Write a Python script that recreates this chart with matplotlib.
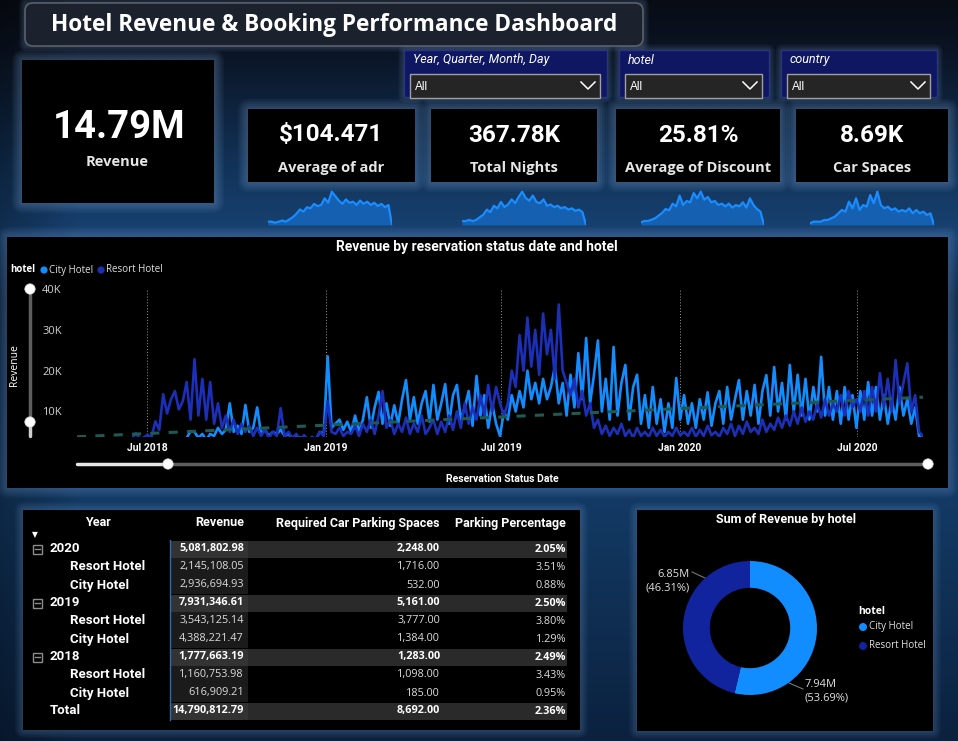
import numpy as np
import pandas as pd
import matplotlib
matplotlib.use("Agg")
import matplotlib.pyplot as plt
import matplotlib.dates as mdates
from matplotlib.colors import to_rgb
from matplotlib.patches import Rectangle, FancyBboxPatch, Circle

# ---------------- data ----------------
total_revenue_txt = "14.79M"
kpi_labels = ["Average of adr", "Total Nights", "Average of Discount", "Car Spaces"]
kpi_values = ["$104.471", "367.78K", "25.81%", "8.69K"]
slicer_titles = ["Year, Quarter, Month, Day", "hotel", "country"]

# small trend lines under the cards (relative readings)
adr_spark = [3, 3, 2, 3, 4, 3, 5, 7, 10, 14, 12, 16, 15, 19, 17, 18, 24, 20, 30, 26,
             22, 19, 23, 20, 21, 18, 22, 19, 21, 18, 20, 17, 19, 16, 18, 0]
nights_spark = [3, 3, 4, 3, 4, 6, 8, 12, 10, 15, 13, 18, 14, 16, 20, 17, 22, 26, 21, 19,
                23, 18, 17, 20, 15, 16, 14, 15, 13, 14, 12, 13, 11, 12, 10, 0]
discount_spark = [2, 3, 3, 4, 5, 7, 9, 12, 11, 16, 14, 22, 15, 18, 17, 24, 20, 25, 19, 21,
                  17, 18, 15, 16, 14, 16, 13, 15, 14, 17, 13, 20, 15, 12, 10, 0]
car_spark = [1, 2, 2, 2, 3, 3, 4, 5, 7, 9, 8, 14, 10, 16, 9, 12, 11, 18, 13, 20,
             12, 10, 11, 9, 10, 8, 9, 8, 10, 7, 9, 7, 8, 6, 7, 0]

# revenue by reservation status date (K), read every ~4 days
series_start, series_end = "2018-04-20", "2020-09-07"
city_rev_k = [0, 0, 0, 0, 0, 0, 0, 0, 0, 0, 0, 0, 0, 0, 0, 0, 0, 0, 0, 0,
              0, 0, 0, 0, 0, 0, 0, 0,
              3.5, 5.2, 5.0, 3.5, 4.5, 3.0, 4.5, 4.0, 6.0, 4.5, 5.5, 12, 5, 6.5, 4.5, 11.6,
              5, 6, 11, 4.5, 5.5, 4, 5, 4.5, 5.5, 4, 4.5, 3.5, 4, 3.5, 3.8, 3, 3.5, 3.2,
              5, 4.5, 23.5, 6,
              7, 8, 5.5, 7.5, 5, 9, 5, 8, 13.5, 6, 11, 14.8, 7, 12, 6.5, 11.5, 7, 13, 17.7, 8,
              13.5, 7, 12, 15, 7.5, 16.5, 8, 12, 16.7, 7, 14, 16.5, 8, 11, 15, 6.5, 18.7, 9,
              14, 6, 12, 7, 4, 10,
              8, 14, 10, 15, 11, 20, 13, 17, 12, 18, 13, 16, 21, 12, 17, 9, 19, 11, 24.3, 13,
              28, 12, 19, 27.4, 10, 18, 8, 25.8, 9, 17, 21.4, 8, 16, 19, 7, 14, 6, 16, 7, 13,
              5, 12, 6, 18.2, 8, 14,
              7, 12, 6, 13, 8, 14.7, 6.5, 12, 15, 7, 16, 8, 13, 17.7, 8, 15, 9, 16.5, 7, 15,
              18.9, 9, 20.9, 10, 17, 8, 21.4, 10, 19, 9, 18, 8, 16, 10, 23.4, 9, 16, 8, 15, 7,
              16, 8, 14, 6, 15,
              8, 17.2, 9, 16, 8, 14, 7, 13, 8, 16, 9, 13, 7, 11, 4, 3]
resort_rev_k = [2.5, 2.8, 2.6, 3.0, 2.7, 3.1, 2.9, 3.2, 3.0, 3.3, 3.1, 3.4, 3.2, 3.5, 3.3, 4.7,
                3.4, 3.6,
                4.3, 3.6, 7.6, 5.5, 14.2, 9.5, 13.0, 15.0, 10.5, 12.5, 17.2, 8.0, 22.8, 9.0,
                18.0, 8.0, 17.2, 7.0, 12.0, 6.0, 9.0, 5.0, 8.0, 4.5, 7.0, 5.0, 6.5, 4.0, 6.0,
                4.0, 5.5, 3.5, 5.0, 4.0, 10.8, 4.0, 5.0, 3.5, 4.5, 3.0, 4.2, 3.0, 3.8, 3.2,
                5.0, 4.0, 12.5, 5.0,
                4.5, 6, 4, 5, 4.5, 6.5, 4, 7, 5, 8, 4.5, 9, 15, 6, 8, 4.5, 7, 5, 8.5, 4.5,
                7, 5, 9, 4.5, 6, 8, 4.5, 7.5, 5, 9, 5.5, 10, 6, 12, 7, 11, 8, 14, 9, 16.5,
                10, 16, 12, 9,
                12, 20, 16, 28.7, 20, 33, 21, 30, 19, 34, 24, 30, 18, 36.2, 20, 17, 14, 18, 11, 15,
                9, 12, 6, 8, 4.5, 6.5, 4, 6, 4.5, 7, 4, 5.5, 3.5, 6, 4, 5, 3.8, 6, 4, 5.5,
                3.8, 5, 4, 6, 4.2, 5,
                4, 6, 3.8, 5.5, 4, 6.5, 4.2, 5, 3.8, 6, 4.5, 7, 4, 6.5, 4.5, 7.5, 5, 6, 4.5, 8,
                5, 7, 5.5, 8.5, 6, 9, 6.5, 10, 7, 11, 7.5, 10, 8, 12, 8.5, 13, 9, 12, 10, 14,
                9, 15, 11, 13, 10,
                15, 9, 16, 10, 19.4, 11, 18, 10, 22.6, 12, 17, 21.8, 10, 14, 5, 4]
trend_k = [3.8, 13.5]  # trend line at first and last date

# matrix table
years = ["2020", "2019", "2018"]
year_rev = [5081802.98, 7931346.61, 1777663.19]
resort_rev = [2145108.05, 3543125.14, 1160753.98]
city_rev = [2936694.93, 4388221.47, 616909.21]
year_park = [2248, 5161, 1283]
resort_park = [1716, 3777, 1098]
city_park = [532, 1384, 185]
year_pct = [2.05, 2.50, 2.49]
resort_pct = [3.51, 3.80, 3.43]
city_pct = [0.88, 1.29, 0.95]
total_rev, total_park, total_pct = 14790812.79, 8692, 2.36

hotels = ["City Hotel", "Resort Hotel"]

# ---------------- style ----------------
W, H = 958, 741
CITY = "#118DFF"
RESORT = "#12239E"
RESORT_LINE = "#1c2fb8"
SEG = ["Open Sans", "DejaVu Sans"]
DIN = ["Roboto", "DejaVu Sans"]

fig = plt.figure(figsize=(W / 100, H / 100), dpi=100)
bg = fig.add_axes([0, 0, 1, 1])
bg.set_xlim(0, W)
bg.set_ylim(H, 0)
bg.axis("off")

# background gradient
stops_y = [0, 50, 170, 232, 300, 500, 741]
stops_c = ["#080c14", "#0b1424", "#12345a", "#184272", "#0e2848", "#133a64", "#0b213e"]
yy = np.arange(H)
rgb = np.array([to_rgb(c) for c in stops_c])
col = np.stack([np.interp(yy, stops_y, rgb[:, k]) for k in range(3)], axis=1)
xx = np.arange(W)
shade = 0.7 + 0.3 * np.clip(xx / 80, 0, 1)
img = col[:, None, :] * shade[None, :, None]
bg.imshow(img, extent=[0, W, H, 0], aspect="auto", zorder=0)


def px_axes(x0, y0, x1, y1):
    return fig.add_axes([x0 / W, 1 - y1 / H, (x1 - x0) / W, (y1 - y0) / H])


def glow(x0, y0, x1, y1, spread=10, color="#8fb8e8", a=0.05):
    for k in range(6, 0, -1):
        p = spread * k / 6
        bg.add_patch(FancyBboxPatch((x0 - p, y0 - p), x1 - x0 + 2 * p, y1 - y0 + 2 * p,
                                    boxstyle="round,pad=0,rounding_size=%.1f" % (p + 2),
                                    fc=color, ec="none", alpha=a, zorder=1))


def box(x0, y0, x1, y1, fc="black", ec="none", lw=0, z=2):
    bg.add_patch(Rectangle((x0, y0), x1 - x0, y1 - y0, fc=fc, ec=ec, lw=lw, zorder=z))


# title
glow(25, 3, 643, 46, spread=6, a=0.04)
bg.add_patch(FancyBboxPatch((25, 3), 618, 43, boxstyle="round,pad=0,rounding_size=8",
                            fc="#1b222e", ec="#59606c", lw=1.2, zorder=2))
bg.text(334, 25, "Hotel Revenue & Booking Performance Dashboard", color="white",
        fontsize=16.3, fontweight="bold", family=SEG, ha="center", va="center", zorder=3)

# big revenue card
glow(22, 60, 214, 203)
box(22, 60, 214, 203)
bg.text(119, 128, total_revenue_txt, color="white", fontsize=27.5, fontweight="bold",
        family=DIN, ha="center", va="center", zorder=3)
bg.text(117, 162, "Revenue", color="#e6e6e6", fontsize=10.5, fontweight="bold",
        family=SEG, ha="center", va="center", zorder=3)

# slicers
slicer_boxes = [(404, 50, 607, 97), (619, 50, 769, 97), (781, 50, 937, 97)]
for (x0, y0, x1, y1), name in zip(slicer_boxes, slicer_titles):
    glow(x0, y0, x1, y1, spread=6, a=0.035)
    box(x0, y0, x1, y1, fc="#0f1763", ec="#2a3580", lw=1)
    bg.text(x0 + 9, 60, name, color="white", fontsize=9, style="italic", family=DIN,
            ha="left", va="center", zorder=3)
    box(x0 + 6, 74, x1 - 7, y1 + 1, fc="#252525", ec="#a0a0a0", lw=1, z=3)
    bg.text(x0 + 11, 87, "All", color="white", fontsize=8.5, family=["Liberation Sans", "DejaVu Sans"],
            ha="left", va="center", zorder=4)
    cx = x1 - 19
    bg.plot([cx - 7, cx, cx + 7], [82, 89, 82], color="white", lw=1.1, zorder=4)

# KPI cards + sparklines
card_boxes = [(248, 109, 415, 182), (431, 109, 597, 182), (616, 109, 780, 182), (796, 109, 948, 182)]
spark_boxes = [(268, 190, 392, 225), (462, 190, 586, 225), (641, 190, 764, 225), (810, 190, 934, 225)]
sparks = [adr_spark, nights_spark, discount_spark, car_spark]
for (x0, y0, x1, y1), val, lab in zip(card_boxes, kpi_values, kpi_labels):
    glow(x0, y0, x1, y1)
    box(x0, y0, x1, y1)
    cx = (x0 + x1) / 2
    bg.text(cx, 135, val, color="white", fontsize=17.5, fontweight="bold", family=DIN,
            ha="center", va="center", zorder=3)
    bg.text(cx, 168, lab, color="#e6e6e6", fontsize=10.5, fontweight="bold", family=SEG,
            ha="center", va="center", zorder=3)
for (x0, y0, x1, y1), s in zip(spark_boxes, sparks):
    sa = px_axes(x0, y0, x1, y1)
    sx = np.arange(len(s))
    sa.fill_between(sx, 0, s, color="#1560b0", lw=0)
    sa.plot(sx, s, color="#1a8cff", lw=1.6)
    sa.set_xlim(0, len(s) - 1)
    sa.set_ylim(0, max(s) * 1.05)
    sa.axis("off")

# ---------------- line chart ----------------
glow(7, 237, 948, 488, spread=10, color="#7fa8e0", a=0.05)
box(7, 237, 948, 488)
bg.text(477, 247, "Revenue by reservation status date and hotel", color="white", fontsize=10,
        fontweight="bold", family=DIN, ha="center", va="center", zorder=3)
bg.text(10, 270, "hotel", color="white", fontsize=7, fontweight="bold", family=SEG,
        ha="left", va="center", zorder=3)
bg.add_patch(Circle((44, 270), 3.6, fc=CITY, ec="none", zorder=3))
bg.text(49, 270, hotels[0], color="#e0e0e0", fontsize=7, family=SEG, ha="left", va="center", zorder=3)
bg.add_patch(Circle((101, 270), 3.6, fc=RESORT_LINE, ec="none", zorder=3))
bg.text(106, 270, hotels[1], color="#e0e0e0", fontsize=7, family=SEG, ha="left", va="center", zorder=3)
bg.text(15, 365, "Revenue", color="white", fontsize=7.5, family=SEG, rotation=90,
        ha="center", va="center", zorder=3)
bg.text(502, 479, "Reservation Status Date", color="white", fontsize=7.5, fontweight="bold",
        family=DIN, ha="center", va="center", zorder=3)

# range sliders
bg.plot([30, 30], [289, 422], color="#5e5e5e", lw=2.5, zorder=3, solid_capstyle="round")
bg.plot([30, 30], [422, 436], color="#cfcfcf", lw=2.5, zorder=3, solid_capstyle="round")
bg.plot([77, 168], [464, 464], color="#e6e6e6", lw=2.5, zorder=3, solid_capstyle="round")
bg.plot([168, 928], [464, 464], color="#5e5e5e", lw=2.5, zorder=3, solid_capstyle="round")
for cx, cy in [(30, 289), (30, 422), (168, 464), (928, 464)]:
    bg.add_patch(Circle((cx, cy), 5.2, fc="white", ec="#cccccc", lw=0.5, zorder=4))

dates = pd.date_range(series_start, series_end, periods=len(city_rev_k))
ax = px_axes(77, 289, 923, 437)
ax.set_facecolor("none")
ax.plot(dates, city_rev_k, color=CITY, lw=1.9, zorder=3)
ax.plot(dates, resort_rev_k, color=RESORT_LINE, lw=1.9, zorder=4)
ax.plot([dates[0], dates[-1]], trend_k, color="#1f5a52", lw=2.2, ls=(0, (3, 3)), zorder=5)
ax.set_xlim(dates[0], dates[-1])
ax.set_ylim(3.75, 40)
ax.set_yticks([10, 20, 30, 40])
ax.set_yticklabels(["10K", "20K", "30K", "40K"])
ax.xaxis.set_major_locator(mdates.MonthLocator(bymonth=[1, 7]))
ax.xaxis.set_major_formatter(mdates.DateFormatter("%b %Y"))
ax.grid(axis="x", color="#9a9a9a", ls=(0, (1, 2)), lw=0.7)
ax.tick_params(axis="y", length=0, pad=11, labelsize=8, labelcolor="#d0d0d0")
ax.tick_params(axis="x", length=0, pad=4, labelsize=7.5, labelcolor="white")
for t in ax.get_xticklabels():
    t.set_fontweight("bold")
    t.set_family(DIN)
for t in ax.get_yticklabels():
    t.set_family(SEG)
for s in ax.spines.values():
    s.set_visible(False)

# ---------------- matrix table ----------------
glow(23, 510, 580, 730, spread=8, a=0.04)
box(23, 510, 580, 730)
rev_r, park_r, pct_r = 244, 440, 566
hy = 523
bg.text(98, hy, "Year", color="white", fontsize=9, fontweight="bold", family=DIN, ha="center", va="center", zorder=3)
bg.text(rev_r, hy, "Revenue", color="white", fontsize=9, fontweight="bold", family=DIN, ha="right", va="center", zorder=3)
bg.text(park_r, hy, "Required Car Parking Spaces", color="white", fontsize=9, fontweight="bold", family=DIN, ha="right", va="center", zorder=3)
bg.text(pct_r, hy, "Parking Percentage", color="white", fontsize=9, fontweight="bold", family=DIN, ha="right", va="center", zorder=3)
bg.text(35, 535, "\u25bc", color="white", fontsize=5.5, family="DejaVu Sans", ha="center", va="center", zorder=3)

rows = []
for i, yr in enumerate(years):
    rows.append(("year", yr, year_rev[i], year_park[i], year_pct[i]))
    rows.append(("sub", "Resort Hotel", resort_rev[i], resort_park[i], resort_pct[i]))
    rows.append(("sub", "City Hotel", city_rev[i], city_park[i], city_pct[i]))
rows.append(("total", "Total", total_rev, total_park, total_pct))

for k, (kind, lab, rv, pk, pc) in enumerate(rows):
    y = 549 + 18 * k
    strong = kind != "sub"
    if strong:
        box(170, y - 8.5, 248, y + 8.5, fc="#333333", z=2)
        box(248, y - 8.5, 567, y + 8.5, fc="#2a2a2a", z=2)
    else:
        box(170, y - 9, 248, y + 9, fc="#1b1b1b", z=2)
    if kind == "year":
        bg.add_patch(Rectangle((33, y - 4.5), 9, 9, fc="none", ec="#8c8c8c", lw=1, zorder=3))
        bg.plot([35, 40], [y, y], color="#8c8c8c", lw=1, zorder=3)
    lx = 70 if kind == "sub" else 50
    bg.text(lx, y, lab, color="white", fontsize=9.5, fontweight="bold", family=DIN,
            ha="left", va="center", zorder=3)
    fw = "bold" if strong else "normal"
    vc = "white" if strong else "#dcdcdc"
    bg.text(rev_r, y, f"{rv:,.2f}", color=vc, fontsize=7.8, fontweight=fw, family=SEG, ha="right", va="center", zorder=3)
    bg.text(park_r, y, f"{pk:,.2f}", color=vc, fontsize=7.8, fontweight=fw, family=SEG, ha="right", va="center", zorder=3)
    bg.text(pct_r, y, f"{pc:.2f}%", color=vc, fontsize=7.8, fontweight=fw, family=SEG, ha="right", va="center", zorder=3)
bg.plot([170, 170], [540, 720], color="#2d6ab0", lw=1, zorder=3)

# ---------------- donut ----------------
glow(637, 510, 933, 731, spread=8, a=0.04)
box(637, 510, 933, 731)
bg.text(786, 519, "Sum of Revenue by hotel", color="white", fontsize=9, fontweight="bold",
        family=DIN, ha="center", va="center", zorder=3)
hotel_totals = [sum(city_rev), sum(resort_rev)]
share = [v / sum(hotel_totals) * 100 for v in hotel_totals]
dax = px_axes(683, 561, 817, 695)
dax.pie(hotel_totals, colors=[CITY, RESORT], startangle=90, counterclock=False,
        wedgeprops=dict(width=0.4, edgecolor="none"))
dax.set_xlim(-1, 1)
dax.set_ylim(-1, 1)
dax.set_aspect("equal")

bg.plot([692, 705], [572, 578], color="#777777", lw=0.8, zorder=3)
bg.text(690, 581, f"{hotel_totals[1] / 1e6:.2f}M\n({share[1]:.2f}%)", color="#e0e0e0",
        fontsize=8, family=SEG, ha="right", va="center", linespacing=1.3, zorder=3)
bg.plot([789, 803], [683, 689], color="#777777", lw=0.8, zorder=3)
bg.text(805, 691, f"{hotel_totals[0] / 1e6:.2f}M\n({share[0]:.2f}%)", color="#e0e0e0",
        fontsize=8, family=SEG, ha="left", va="center", linespacing=1.3, zorder=3)

bg.text(858, 611, "hotel", color="white", fontsize=7.5, fontweight="bold", family=SEG,
        ha="left", va="center", zorder=3)
for k, (h, c) in enumerate(zip(hotels, [CITY, RESORT])):
    yk = 627 + 19 * k
    bg.add_patch(Circle((863, yk), 4, fc=c, ec="none", zorder=3))
    bg.text(869, yk, h, color="#e0e0e0", fontsize=7, family=SEG, ha="left", va="center", zorder=3)

fig.savefig("out.png", dpi=100, facecolor="black")
